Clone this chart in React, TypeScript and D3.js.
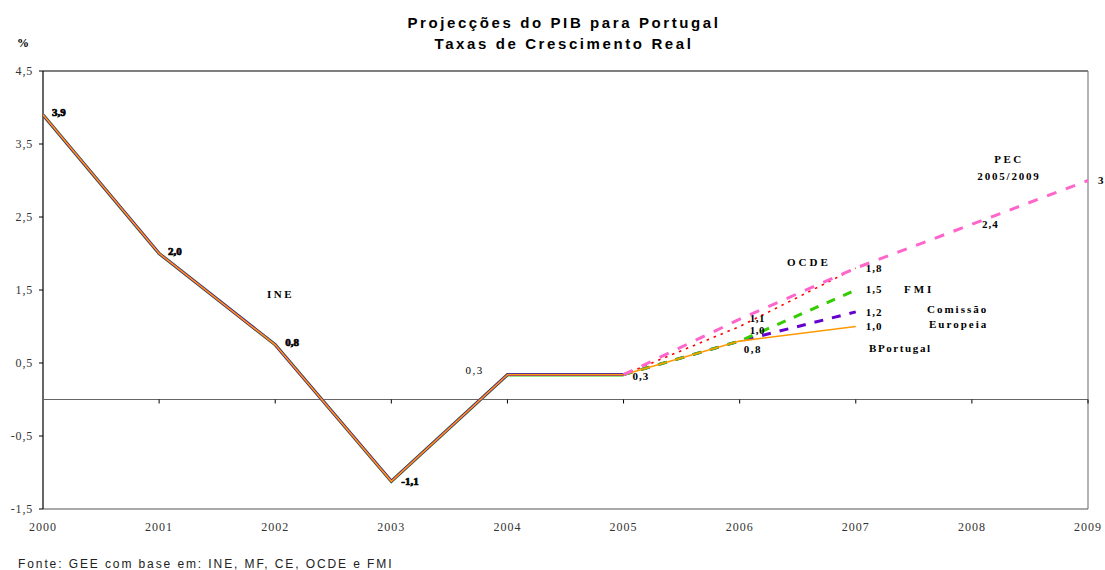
import React from "react";
import * as d3 from "d3";

const years = [2000, 2001, 2002, 2003, 2004, 2005, 2006, 2007, 2008, 2009];
const yTicks = [-1.5, -0.5, 0.5, 1.5, 2.5, 3.5, 4.5];
const histYears = [2000, 2001, 2002, 2003, 2004, 2005];
const histValues = [3.9, 2.0, 0.75, -1.12, 0.34, 0.34];
const histLabels = ["3,9", "2,0", "0,8", "-1,1", "0,3", "0,3"];

const bpYears = [2005, 2006, 2007];
const bpValues = [0.34, 0.8, 1.0];
const ceYears = [2005, 2006, 2007];
const ceValues = [0.34, 0.8, 1.2];
const fmiYears = [2005, 2006, 2007];
const fmiValues = [0.34, 0.8, 1.5];
const ocdeYears = [2005, 2006, 2007];
const ocdeValues = [0.34, 1.0, 1.8];
const pecYears = [2005, 2006, 2007, 2008, 2009];
const pecValues = [0.34, 1.1, 1.8, 2.4, 3.0];

const W = 1105, H = 570;
const x = d3.scaleLinear().domain([2000, 2009]).range([43, 1088]);
const y = d3.scaleLinear().domain([-1.5, 4.5]).range([509, 71]);
const fmt = (v: number) => v.toFixed(1).replace(".", ",");

const lineGen = d3.line<[number, number]>().x(d => x(d[0])).y(d => y(d[1]));
const pts = (xs: number[], vs: number[]) => xs.map((xx, i) => [xx, vs[i]] as [number, number]);

const serif = "'Liberation Serif', 'Times New Roman', serif";
const sans = "'Liberation Sans', Arial, sans-serif";

export default function App() {
  const hist = lineGen(pts(histYears, histValues)) || "";
  const lbl = (t: string, xx: number, yy: number, opts: any = {}) => (
    <text x={xx} y={yy} fontFamily={serif} fontSize={opts.size || 11} fontWeight={opts.weight || "bold"}
      letterSpacing={opts.ls ?? 1.5} textAnchor={opts.anchor || "start"} fill="#000"
      stroke={opts.heavy ? "#000" : "none"} strokeWidth={opts.heavy ? 0.7 : 0}>{t}</text>
  );
  return (
    <svg width={W} height={H} style={{ position: "absolute", left: 0, top: 0, background: "#fff" }}>
      <rect x={0} y={0} width={W} height={H} fill="#fff" />
      <text x={564} y={28} textAnchor="middle" fontFamily={sans} fontWeight="bold" fontSize={15} letterSpacing={2.6}>Projecções do PIB para Portugal</text>
      <text x={564} y={49} textAnchor="middle" fontFamily={sans} fontWeight="bold" fontSize={15} letterSpacing={2.6}>Taxas de Crescimento Real</text>
      <text x={17} y={47} fontFamily={serif} fontWeight="bold" fontSize={12}>%</text>

      {/* frame */}
      <line x1={43} x2={1088} y1={y(4.5)} y2={y(4.5)} stroke="#000" strokeWidth={1.2} />
      <line x1={1088} x2={1088} y1={y(4.5)} y2={y(-1.5)} stroke="#808080" strokeWidth={1.2} />
      <line x1={43} x2={1088} y1={y(-1.5)} y2={y(-1.5)} stroke="#555" strokeWidth={1.2} />
      <line x1={43} x2={43} y1={y(4.5)} y2={y(-1.5)} stroke="#000" strokeWidth={1.2} />
      <line x1={43} x2={1088} y1={y(0)} y2={y(0)} stroke="#666" strokeWidth={1.2} />
      {yTicks.map(t => (
        <g key={t}>
          <line x1={39} x2={43} y1={y(t)} y2={y(t)} stroke="#000" />
          <text x={33} y={y(t) + 4} textAnchor="end" fontFamily={serif} fontSize={12} letterSpacing={0.8} fill="#333">{fmt(t)}</text>
        </g>
      ))}
      {years.map(yr => (
        <g key={yr}>
          {yr > 2000 && <line x1={x(yr)} x2={x(yr)} y1={y(0)} y2={y(0) + 4} stroke="#000" />}
          <text x={x(yr)} y={531} textAnchor="middle" fontFamily={serif} fontSize={12} letterSpacing={1} fill="#333">{yr}</text>
        </g>
      ))}

      {/* historical INE lines (overlapping series) */}
      <path d={hist} fill="none" stroke="#33cc00" strokeWidth={3.4} />
      <path d={hist} fill="none" stroke="#6600cc" strokeWidth={2.8} />
      <path d={hist} fill="none" stroke="#ff9900" strokeWidth={1.6} />

      {/* projections */}
      <path d={lineGen(pts(ceYears, ceValues)) || ""} fill="none" stroke="#6600cc" strokeWidth={3} strokeDasharray="9 9" />
      <path d={lineGen(pts(fmiYears, fmiValues)) || ""} fill="none" stroke="#33cc00" strokeWidth={3} strokeDasharray="9 9" />
      <path d={lineGen(pts(bpYears, bpValues)) || ""} fill="none" stroke="#ff9900" strokeWidth={1.6} />
      <path d={lineGen(pts(ocdeYears, ocdeValues)) || ""} fill="none" stroke="#ff0000" strokeWidth={1.6} strokeDasharray="2.5 5" />
      <path d={lineGen(pts(pecYears, pecValues)) || ""} fill="none" stroke="#ff66cc" strokeWidth={3} strokeDasharray="10 10" />

      {/* historical labels */}
      {lbl(histLabels[0], x(2000) + 9, y(histValues[0]) + 1, { heavy: true, ls: 0 })}
      {lbl(histLabels[1], x(2001) + 9, y(histValues[1]) + 1, { heavy: true, ls: 0 })}
      {lbl(histLabels[2], x(2002) + 10, y(histValues[2]) + 1, { heavy: true, ls: 0 })}
      {lbl(histLabels[3], x(2003) + 10, y(histValues[3]) + 4, { heavy: true, ls: 0 })}
      {lbl(histLabels[4], x(2004) - 42, y(histValues[4]) - 1, { weight: "normal", ls: 1.5 })}
      {lbl(histLabels[5], x(2005) + 9, y(histValues[5]) + 5, { ls: 1 })}
      {lbl("INE", 267, 298, { ls: 2.5 })}

      {/* projection labels */}
      {lbl(fmt(bpValues[1]), x(2006) + 4, y(bpValues[1]) + 12, { ls: 1.5 })}
      {lbl(fmt(pecValues[1]), x(2006) + 10, y(pecValues[1]) + 3, { ls: 0.5 })}
      {lbl(fmt(ocdeValues[1]), x(2006) + 10, y(ocdeValues[1]) + 7, { ls: 0.5 })}
      {lbl(fmt(ocdeValues[2]), x(2007) + 10, y(ocdeValues[2]) + 4, { ls: 1 })}
      {lbl(fmt(fmiValues[2]), x(2007) + 10, y(fmiValues[2]) + 3, { ls: 1 })}
      {lbl(fmt(ceValues[2]), x(2007) + 10, y(ceValues[2]) + 4, { ls: 1 })}
      {lbl(fmt(bpValues[2]), x(2007) + 10, y(bpValues[2]) + 3, { ls: 1 })}
      {lbl(fmt(pecValues[3]), x(2008) + 10, y(pecValues[3]) + 4, { ls: 1 })}
      {lbl(String(pecValues[4]), x(2009) + 10, y(pecValues[4]) + 3, { ls: 1 })}

      {lbl("PEC", 1009, 163, { anchor: "middle", ls: 2.5 })}
      {lbl("2005/2009", 1009, 180, { anchor: "middle", ls: 1.8 })}
      {lbl("OCDE", 787, 266, { ls: 3 })}
      {lbl("FMI", 904, 293, { ls: 3 })}
      {lbl("Comissão", 927, 313, { ls: 2 })}
      {lbl("Europeia", 929, 328, { ls: 2 })}
      {lbl("BPortugal", 869, 352, { ls: 1.6 })}

      <text x={18} y={568} fontFamily={sans} fontSize={12} letterSpacing={1.9} fill="#222">Fonte: GEE com base em: INE, MF, CE, OCDE e FMI</text>
    </svg>
  );
}
